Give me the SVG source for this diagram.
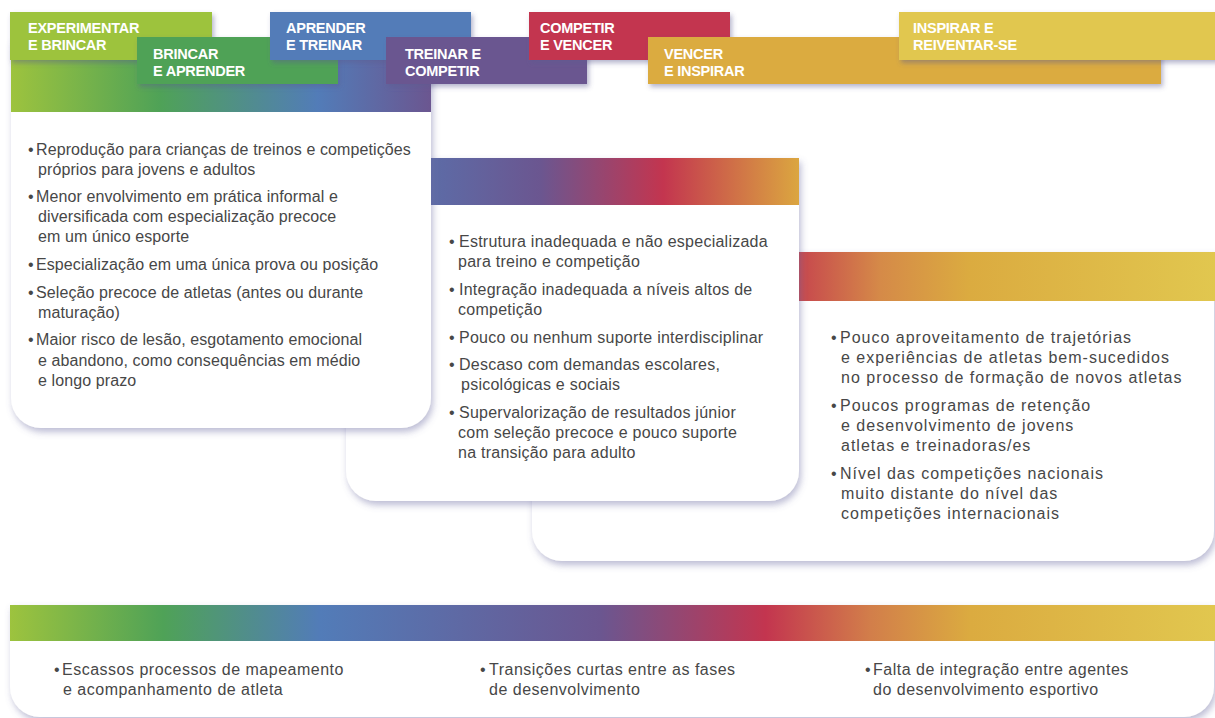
<svg xmlns="http://www.w3.org/2000/svg" width="1215" height="718" viewBox="0 0 1215 718">
<defs>
<style>
.tag text{font-family:"Liberation Sans",Arial,sans-serif;font-weight:bold;font-size:14.5px;fill:#ffffff;letter-spacing:-0.25px}
.body{font-family:"Liberation Sans",Arial,sans-serif;font-size:16px;fill:#474747}
.c1{letter-spacing:0.1px}
.c2{letter-spacing:0.25px}
.c3{letter-spacing:1px}
.c4{letter-spacing:0.5px}
.card{fill:#ffffff;filter:url(#sh)}
</style>
<filter id="sh" x="-10%" y="-10%" width="125%" height="130%">
<feDropShadow dx="2" dy="4" stdDeviation="3.5" flood-color="#6c6ca0" flood-opacity="0.45"/>
</filter>
<filter id="tsh" x="-10%" y="-20%" width="125%" height="160%">
<feDropShadow dx="2" dy="3" stdDeviation="2.5" flood-color="#5a5a90" flood-opacity="0.45"/>
</filter>
<linearGradient id="g1" gradientUnits="userSpaceOnUse" x1="11" y1="0" x2="431" y2="0">
<stop offset="0" stop-color="#9dc33e"/><stop offset="0.355" stop-color="#4fa257"/><stop offset="0.731" stop-color="#527cb8"/><stop offset="1" stop-color="#6b5690"/>
</linearGradient>
<linearGradient id="g2" gradientUnits="userSpaceOnUse" x1="346" y1="0" x2="799" y2="0">
<stop offset="0" stop-color="#527cb8"/><stop offset="0.43" stop-color="#6b5690"/><stop offset="0.7" stop-color="#c3354f"/><stop offset="1" stop-color="#dba640"/>
</linearGradient>
<linearGradient id="g3" gradientUnits="userSpaceOnUse" x1="532" y1="0" x2="1215" y2="0">
<stop offset="0" stop-color="#6b5690"/><stop offset="0.36" stop-color="#c3354f"/><stop offset="0.51" stop-color="#d58a48"/><stop offset="0.64" stop-color="#dbab40"/><stop offset="1" stop-color="#e1c74f"/>
</linearGradient>
<linearGradient id="g4" gradientUnits="userSpaceOnUse" x1="10" y1="0" x2="1215" y2="0">
<stop offset="0" stop-color="#9dc33e"/><stop offset="0.127" stop-color="#4fa257"/><stop offset="0.257" stop-color="#527cb8"/><stop offset="0.49" stop-color="#6b5690"/><stop offset="0.627" stop-color="#c3354f"/><stop offset="0.714" stop-color="#d27e4a"/><stop offset="0.797" stop-color="#dbab40"/><stop offset="1" stop-color="#e1c74f"/>
</linearGradient>
</defs>
<rect width="1215" height="718" fill="#ffffff"/>

<g id="card-bottom">
<path class="card" d="M10,605 H1214 V687 A30,30 0 0 1 1184,717 H40 A30,30 0 0 1 10,687 Z"/>
<rect x="10" y="605" width="1205" height="36" fill="url(#g4)"/>
<text class="body c4" x="54" y="675">•<tspan x="62">Escassos processos de mapeamento</tspan></text>
<text class="body c4" x="63" y="695">e acompanhamento de atleta</text>
<text class="body c4" x="480" y="675">•<tspan x="489">Transições curtas entre as fases</tspan></text>
<text class="body c4" x="489" y="695">de desenvolvimento</text>
<text class="body c4" x="865" y="675">•<tspan x="873">Falta de integração entre agentes</tspan></text>
<text class="body c4" x="873" y="695">do desenvolvimento esportivo</text>
</g>

<g id="card3">
<path class="card" d="M532,252 H1214 V531 A30,30 0 0 1 1184,561 H562 A30,30 0 0 1 532,531 Z"/>
<rect x="532" y="252" width="683" height="49" fill="url(#g3)"/>
<text class="body c3" x="831" y="343">•<tspan x="840">Pouco aproveitamento de trajetórias</tspan></text>
<text class="body c3" x="841" y="363">e experiências de atletas bem-sucedidos</text>
<text class="body c3" x="841" y="383">no processo de formação de novos atletas</text>
<text class="body c3" x="831" y="411">•<tspan x="840">Poucos programas de retenção</tspan></text>
<text class="body c3" x="841" y="431">e desenvolvimento de jovens</text>
<text class="body c3" x="841" y="451">atletas e treinadoras/es</text>
<text class="body c3" x="831" y="479">•<tspan x="840">Nível das competições nacionais</tspan></text>
<text class="body c3" x="841" y="499">muito distante do nível das</text>
<text class="body c3" x="841" y="519">competições internacionais</text>
</g>

<g id="card2">
<path class="card" d="M346,158 H799 V471 A30,30 0 0 1 769,501 H376 A30,30 0 0 1 346,471 Z"/>
<rect x="346" y="158" width="453" height="47" fill="url(#g2)"/>
<text class="body c2" x="449" y="247">•<tspan x="459">Estrutura inadequada e não especializada</tspan></text>
<text class="body c2" x="458" y="267">para treino e competição</text>
<text class="body c2" x="449" y="295">•<tspan x="459">Integração inadequada a níveis altos de</tspan></text>
<text class="body c2" x="458" y="315">competição</text>
<text class="body c2" x="449" y="343">•<tspan x="459">Pouco ou nenhum suporte interdisciplinar</tspan></text>
<text class="body c2" x="449" y="370">•<tspan x="459">Descaso com demandas escolares,</tspan></text>
<text class="body c2" x="461" y="390">psicológicas e sociais</text>
<text class="body c2" x="449" y="418">•<tspan x="459">Supervalorização de resultados júnior</tspan></text>
<text class="body c2" x="458" y="438">com seleção precoce e pouco suporte</text>
<text class="body c2" x="458" y="458">na transição para adulto</text>
</g>

<g id="card1">
<path class="card" d="M11,40 H431 V398 A30,30 0 0 1 401,428 H41 A30,30 0 0 1 11,398 Z"/>
<rect x="11" y="40" width="420" height="72" fill="url(#g1)"/>
<text class="body c1" x="28" y="155">•<tspan x="36">Reprodução para crianças de treinos e competições</tspan></text>
<text class="body c1" x="38" y="175">próprios para jovens e adultos</text>
<text class="body c1" x="28" y="202">•<tspan x="36">Menor envolvimento em prática informal e</tspan></text>
<text class="body c1" x="38" y="222">diversificada com especialização precoce</text>
<text class="body c1" x="38" y="242">em um único esporte</text>
<text class="body c1" x="28" y="270">•<tspan x="36">Especialização em uma única prova ou posição</tspan></text>
<text class="body c1" x="28" y="298">•<tspan x="36">Seleção precoce de atletas (antes ou durante</tspan></text>
<text class="body c1" x="38" y="318">maturação)</text>
<text class="body c1" x="28" y="345">•<tspan x="36">Maior risco de lesão, esgotamento emocional</tspan></text>
<text class="body c1" x="38" y="366">e abandono, como consequências em médio</text>
<text class="body c1" x="38" y="386">e longo prazo</text>
</g>

<g id="tag1" class="tag">
<rect x="10" y="12" width="202" height="48" fill="#9dc33e" filter="url(#tsh)"/>
<text x="28" y="33">EXPERIMENTAR</text><text x="28" y="50">E BRINCAR</text>
</g>
<g id="tag2" class="tag">
<rect x="137" y="37" width="201" height="47" fill="#4fa257" filter="url(#tsh)"/>
<text x="153" y="59">BRINCAR</text><text x="153" y="76">E APRENDER</text>
</g>
<g id="tag3" class="tag">
<rect x="270" y="12" width="201" height="48" fill="#527cb8" filter="url(#tsh)"/>
<text x="286" y="33">APRENDER</text><text x="286" y="50">E TREINAR</text>
</g>
<g id="tag4" class="tag">
<rect x="386" y="37" width="201" height="47" fill="#6b5690" filter="url(#tsh)"/>
<text x="405" y="59">TREINAR E</text><text x="405" y="76">COMPETIR</text>
</g>
<g id="tag5" class="tag">
<rect x="529" y="12" width="201" height="48" fill="#c3354f" filter="url(#tsh)"/>
<text x="540" y="33">COMPETIR</text><text x="540" y="50">E VENCER</text>
</g>
<g id="tag6" class="tag">
<rect x="648" y="37" width="513" height="47" fill="#dbab40" filter="url(#tsh)"/>
<text x="664" y="59">VENCER</text><text x="664" y="76">E INSPIRAR</text>
</g>
<g id="tag7" class="tag">
<rect x="899" y="12" width="320" height="48" fill="#e1c74f" filter="url(#tsh)"/>
<text x="913" y="33">INSPIRAR E</text><text x="913" y="50">REIVENTAR-SE</text>
</g>
<g id="connectors"/>
</svg>
